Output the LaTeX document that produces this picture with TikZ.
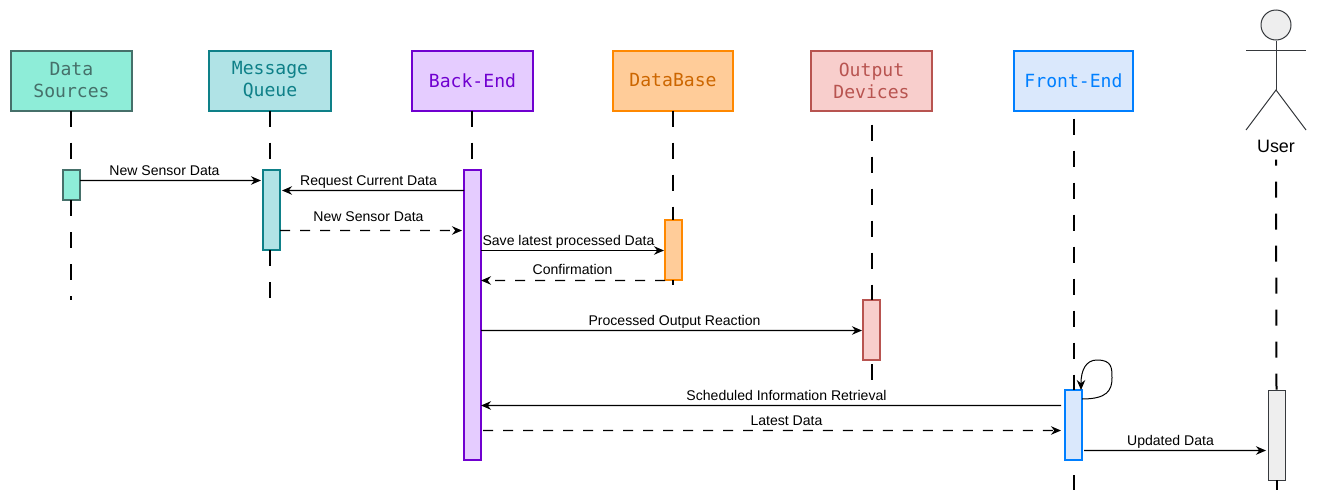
\documentclass[tikz,border=0pt]{standalone}
\usepackage{fontspec}
\usepackage{xcolor}
\setmainfont{Liberation Sans}
\setmonofont{DejaVu Sans Mono}
\usetikzlibrary{arrows.meta,positioning,calc}

\definecolor{dsfill}{HTML}{8EEDD8}
\definecolor{dsline}{HTML}{46706A}
\definecolor{mqfill}{HTML}{B0E3E6}
\definecolor{mqline}{HTML}{0E8088}
\definecolor{befill}{HTML}{E5CCFF}
\definecolor{beline}{HTML}{7000D0}
\definecolor{dbfill}{HTML}{FFCC99}
\definecolor{dbline}{HTML}{FF8800}
\definecolor{dbtext}{HTML}{CC6600}
\definecolor{odfill}{HTML}{F8CECC}
\definecolor{odline}{HTML}{B85450}
\definecolor{fefill}{HTML}{DAE8FC}
\definecolor{feline}{HTML}{007FFF}
\definecolor{userfill}{HTML}{EEEEEE}
\definecolor{userline}{HTML}{36393D}

\tikzset{
  partbox/.style={draw=#1, line width=0.04cm, outer sep=0pt, minimum height=1.2cm, inner sep=0pt,
    align=center, text=#1, font=\fontsize{10.3}{12.5}\selectfont\ttfamily},
  partbar/.style={draw=#1, line width=0.04cm, outer sep=0pt, minimum width=0.34cm, inner sep=0pt},
  lifeline/.style={black, line width=0.04cm, dash pattern=on 0.32cm off 0.32cm},
  msg/.style={black, line width=0.022cm, -{Stealth[length=0.2cm,width=0.17cm]}},
  msgback/.style={msg, dash pattern=on 0.2cm off 0.2cm},
  msglabel/.style={font=\fontsize{8}{9.6}\selectfont, inner sep=0pt, text height=0.2cm, text depth=0.05cm},
  limb/.style={userline, line width=0.02cm}
}

\begin{document}
\begin{tikzpicture}
  \useasboundingbox (0,0) rectangle (26.34,10.06);
  % Header boxes
  \node[partbox=dsline, fill=dsfill, minimum width=2.42cm] (dsbox) at (1.43,8.45) {Data\\Sources};
  \node[partbox=mqline, fill=mqfill, minimum width=2.44cm] (mqbox) at (5.40,8.45) {Message\\Queue};
  \node[partbox=beline, fill=befill, minimum width=2.42cm] (bebox) at (9.45,8.45) {Back-End};
  \node[partbox=dbline, fill=dbfill, text=dbtext, minimum width=2.4cm] (dbbox) at (13.46,8.45) {DataBase};
  \node[partbox=odline, fill=odfill, minimum width=2.42cm] (odbox) at (17.43,8.45) {Output\\Devices};
  \node[partbox=feline, fill=fefill, minimum width=2.38cm] (febox) at (21.47,8.45) {Front-End};
  % Stick figure
  \node[draw=userline, fill=userfill, circle, line width=0.02cm, minimum size=0.6cm, inner sep=0pt] (userhead) at (25.52,9.56) {};
  \coordinate (userhip) at (25.52,8.26);
  \coordinate (userarml) at (24.92,9.06);
  \coordinate (userarmr) at (26.12,9.06);
  \coordinate (userlegl) at (24.92,7.46);
  \coordinate (userlegr) at (26.12,7.46);
  \draw[limb] (userhead) -- (userhip);
  \draw[limb] (userarml) -- (userarmr);
  \draw[limb] (userlegl) -- (userhip) -- (userlegr);
  \node[font=\fontsize{10.2}{12}\selectfont, inner sep=0pt] (username) at (25.52,7.14) {User};
  % Activation bars
  \node[partbar=dsline, fill=dsfill, minimum height=0.6cm] (dsbar) at (1.43,6.36) {};
  \node[partbar=mqline, fill=mqfill, minimum height=1.6cm] (mqbar) at (5.43,5.86) {};
  \node[partbar=beline, fill=befill, minimum height=5.8cm] (bebar) at (9.45,3.76) {};
  \node[partbar=dbline, fill=dbfill, minimum height=1.2cm] (dbbar) at (13.47,5.06) {};
  \node[partbar=odline, fill=odfill, minimum height=1.2cm] (odbar) at (17.43,3.46) {};
  \node[partbar=feline, fill=fefill, minimum height=1.4cm] (febar) at (21.47,1.56) {};
  \node[partbar=userline, fill=userfill, line width=0.02cm, minimum height=1.8cm] (userbar) at (25.53,1.36) {};
  % Lifelines
  \draw[lifeline] ([xshift=-0.01cm]dsbox.south) -- ([xshift=-0.01cm]dsbar.north);
  \draw[lifeline] ([xshift=-0.01cm]dsbar.south) -- ++(0,-2);
  \draw[lifeline] (mqbox.south) -- (mqbox.south |- mqbar.north);
  \draw[lifeline] (mqbox.south |- mqbar.south) -- ++(0,-1);
  \draw[lifeline] ([xshift=-0.01cm]bebox.south) -- ([xshift=-0.01cm]bebar.north);
  \draw[lifeline] (dbbox.south) -- (dbbox.south |- dbbar.north);
  \draw[lifeline] (dbbox.south |- dbbar.south) -- ++(0,-0.1);
  \draw[lifeline] ([yshift=-0.28cm]odbox.south) -- (odbar.north);
  \draw[lifeline] ([yshift=-0.08cm]odbar.south) -- ++(0,-0.32);
  \draw[lifeline] ([yshift=-0.16cm]febox.south) -- (febar.north);
  \draw[lifeline] ([yshift=-0.3cm]febar.south) -- ++(0,-0.3);
  \draw[lifeline, dash phase=0.2cm] ([yshift=-0.14cm]username.south) -- (userbar.north);
  \draw[lifeline] (userbar.south) -- ++(0,-0.2);
  % Messages
  \draw[msg, shorten >=0.04cm] ([yshift=-0.21cm]dsbar.north east) -- ([yshift=-0.21cm]mqbar.north west);
  \draw[msg, shorten >=0.04cm] ([yshift=-0.41cm]bebar.north west) -- ([yshift=-0.41cm]mqbar.north east);
  \draw[msgback, shorten >=0.04cm] ([yshift=-1.21cm]mqbar.north east) -- ([yshift=-1.21cm]bebar.north west);
  \draw[msg, shorten >=0.02cm] ([yshift=-1.61cm]bebar.north east) -- ([yshift=-0.61cm]dbbar.north west);
  \draw[msgback] ([yshift=-1.21cm]dbbar.north west) -- ([yshift=-2.21cm]bebar.north east);
  \draw[msg, shorten >=0.02cm] ([yshift=-3.21cm]bebar.north east) -- ([yshift=-0.61cm]odbar.north west);
  \draw[msg, shorten <=0.08cm] ([yshift=-0.31cm]febar.north west) -- ([yshift=-4.71cm]bebar.north east);
  \draw[msgback, shorten <=0.04cm, shorten >=0.08cm] ([yshift=-5.21cm]bebar.north east) -- ([yshift=-0.81cm]febar.north west);
  \draw[msg, shorten <=0.04cm, shorten >=0.04cm] ([yshift=-1.21cm]febar.north east) -- ([yshift=-1.21cm]userbar.north west);
  % Self call on the front-end
  \draw[msg, line width=0.02cm] ([yshift=-0.18cm]febar.north east)
    .. controls +(0.5,0) and +(0,-0.25) .. ++(0.6,0.42)
    .. controls +(0,0.2) and +(0.3,0) .. ++(-0.3,0.36)
    .. controls +(-0.22,0) and +(0,0.4) .. ([xshift=-0.02cm]febar.north east);
  % Message labels
  \node[msglabel] (lblsensor) at (3.29,6.62) {New Sensor Data};
  \node[msglabel] (lblrequest) at (7.37,6.42) {Request Current Data};
  \node[msglabel] (lblforward) at (7.37,5.70) {New Sensor Data};
  \node[msglabel] (lblsave) at (11.37,5.22) {Save latest processed Data};
  \node[msglabel] (lblconfirm) at (11.45,4.64) {Confirmation};
  \node[msglabel] (lbloutput) at (13.49,3.62) {Processed Output Reaction};
  \node[msglabel] (lblretrieval) at (15.73,2.12) {Scheduled Information Retrieval};
  \node[msglabel] (lbllatest) at (15.73,1.62) {Latest Data};
  \node[msglabel] (lblupdated) at (23.41,1.22) {Updated Data};
\end{tikzpicture}
\end{document}
